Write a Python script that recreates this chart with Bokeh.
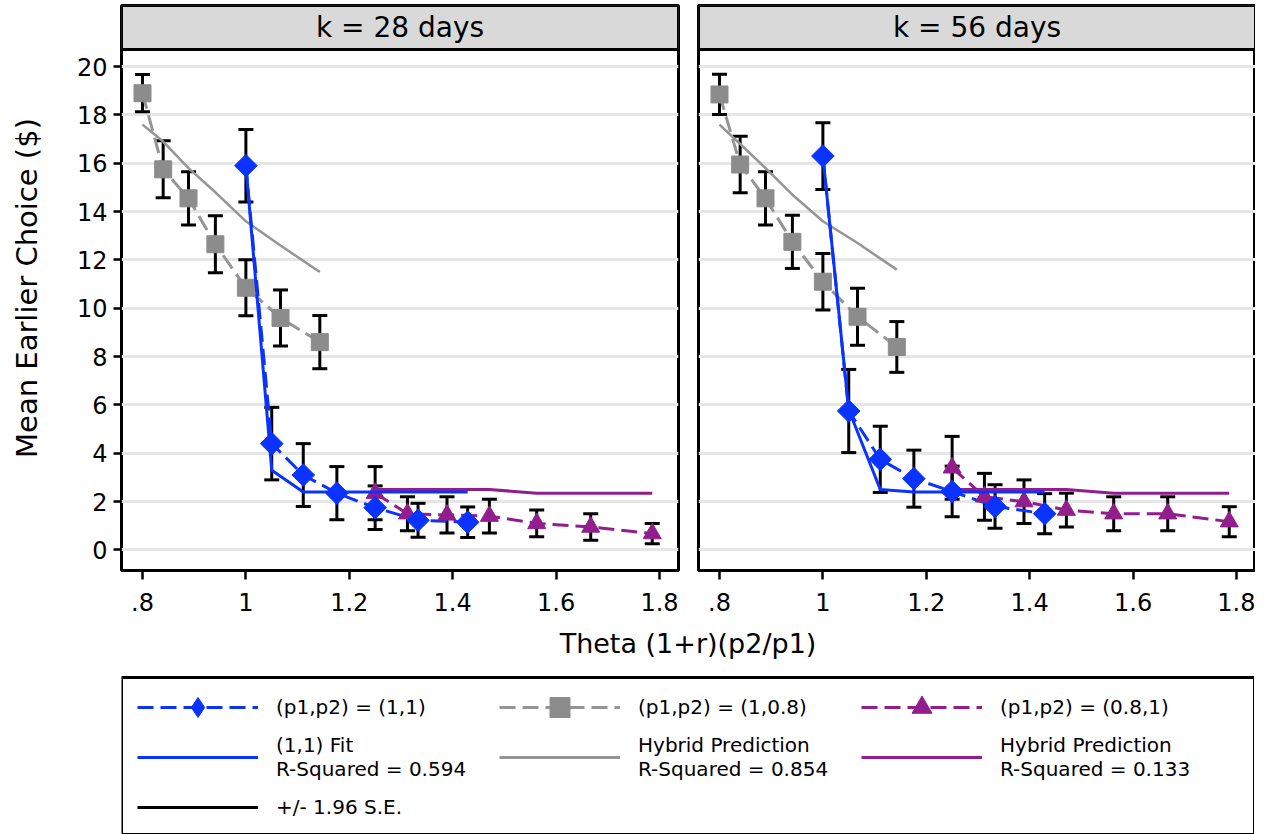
import math
from bokeh.plotting import figure
from bokeh.models import (FixedTicker, BoxAnnotation, Label, Range1d,
                          CustomJSTickFormatter, Legend, LegendItem)
from bokeh.layouts import row, column
from bokeh.embed import file_html
from bokeh.resources import INLINE

FONT = "DejaVu Sans"
BLUE = "#0A33FF"
GRAY = "#8C8C8C"
GRAY_LINE = "#959595"
PURPLE = "#911E8C"
GRID = "#E6E6E6"

# ---------------- data ----------------
panel_titles = ["k = 28 days", "k = 56 days"]
x_title = "Theta (1+r)(p2/p1)"
y_title = "Mean Earlier Choice ($)"
ytick_vals = [0, 2, 4, 6, 8, 10, 12, 14, 16, 18, 20]
xtick_vals = [0.8, 1.0, 1.2, 1.4, 1.6, 1.8]

theta_11 = [1.0, 1.05, 1.111, 1.176, 1.25, 1.333, 1.429]
theta_1_08 = [0.8, 0.84, 0.889, 0.941, 1.0, 1.067, 1.143]
theta_08_1 = [1.25, 1.3125, 1.389, 1.471, 1.5625, 1.667, 1.786]

k28_mean_11 = [15.9, 4.4, 3.1, 2.35, 1.75, 1.23, 1.15]
k28_se_11 = [1.5, 1.5, 1.3, 1.1, 0.9, 0.7, 0.63]
k28_mean_1_08 = [18.9, 15.75, 14.55, 12.65, 10.85, 9.6, 8.6]
k28_se_1_08 = [0.77, 1.18, 1.1, 1.18, 1.16, 1.16, 1.1]
k28_mean_08_1 = [2.35, 1.5, 1.45, 1.4, 1.1, 0.95, 0.68]
k28_se_08_1 = [1.1, 0.7, 0.75, 0.7, 0.55, 0.55, 0.42]
k28_fit_11 = [15.9, 3.3, 2.4, 2.4, 2.4, 2.4, 2.4]
k28_hybrid_1_08 = [17.6, 16.9, 15.8, 14.8, 13.6, 12.6, 11.5]
k28_hybrid_08_1 = [2.5, 2.5, 2.5, 2.5, 2.35, 2.35, 2.35]

k56_mean_11 = [16.3, 5.75, 3.75, 2.95, 2.42, 1.8, 1.5]
k56_se_11 = [1.38, 1.72, 1.37, 1.18, 1.05, 0.9, 0.83]
k56_mean_1_08 = [18.85, 15.95, 14.55, 12.75, 11.1, 9.65, 8.4]
k56_se_1_08 = [0.83, 1.17, 1.1, 1.1, 1.17, 1.18, 1.05]
k56_mean_08_1 = [3.4, 2.2, 2.0, 1.65, 1.5, 1.5, 1.17]
k56_se_08_1 = [1.3, 0.97, 0.9, 0.7, 0.7, 0.7, 0.62]
k56_fit_11 = [16.3, 5.8, 2.5, 2.4, 2.4, 2.4, 2.4]
k56_hybrid_1_08 = [17.6, 16.8, 15.8, 14.7, 13.6, 12.7, 11.6]
k56_hybrid_08_1 = [2.5, 2.5, 2.5, 2.5, 2.35, 2.35, 2.35]

legend_labels = ["(p1,p2) = (1,1)", "(p1,p2) = (1,0.8)", "(p1,p2) = (0.8,1)",
                 "(1,1) Fit\nR-Squared = 0.594", "Hybrid Prediction\nR-Squared = 0.854",
                 "Hybrid Prediction\nR-Squared = 0.133", "+/- 1.96 S.E."]

# ---------------- layout constants ----------------
X_START, X_END = 0.7594, 1.8368
Y_START, Y_END = -0.85, 22.53
STRIP_BOTTOM = 20.71
DASH = "16 7"
LW = 3
PANEL_BOTTOM = 52
LEG_FRAME_H = 834 - (5 + 565 + PANEL_BOTTOM)   # legend figure fills the rest
XTITLE_DOWN = 21     # px from legend-figure top to x-title centre
BOX_DOWN = 55        # px from legend-figure top to legend box top
LEG_GLYPH_H = 50
LEG_PAD = 16

tick_fmt = CustomJSTickFormatter(code="""
let s = tick.toFixed(1);
if (s.startsWith("0")) s = s.slice(1);
if (s.endsWith(".0")) s = s.slice(0, -2);
return s;
""")


def errorbars(p, xs, means, ses):
    lo = [m - s for m, s in zip(means, ses)]
    hi = [m + s for m, s in zip(means, ses)]
    p.segment(x0=xs, y0=lo, x1=xs, y1=hi, line_color="black", line_width=LW)
    p.scatter(xs, lo, marker="dash", size=15, line_color="black", line_width=LW)
    p.scatter(xs, hi, marker="dash", size=15, line_color="black", line_width=LW)


def make_panel(title, m11, s11, m108, s108, m081, s081, fit11, hyb108, hyb081, left):
    p = figure(frame_width=557, frame_height=565,
               x_range=Range1d(X_START, X_END), y_range=Range1d(Y_START, Y_END),
               output_backend="svg", toolbar_location=None,
               min_border_left=121 if left else 10, min_border_right=10 if left else 0,
               min_border_top=5, min_border_bottom=PANEL_BOTTOM,
               y_axis_location="left" if left else None)
    p.outline_line_color = "black"
    p.outline_line_width = 3
    p.outline_line_alpha = 1
    p.background_fill_color = "white"
    p.border_fill_color = "white"
    p.xgrid.visible = False
    p.ygrid.ticker = FixedTicker(ticks=ytick_vals)
    p.ygrid.grid_line_color = GRID
    p.ygrid.grid_line_width = 3

    if left:
        ax = p.yaxis[0]
        ax.ticker = FixedTicker(ticks=ytick_vals)
        ax.axis_line_color = None
        ax.major_tick_out = 8
        ax.major_tick_in = 0
        ax.minor_tick_out = 0
        ax.minor_tick_in = 0
        ax.major_tick_line_width = 2.5
        ax.major_tick_line_color = "black"
        ax.major_label_text_font = FONT
        ax.major_label_text_font_size = "24px"
        ax.major_label_text_color = "black"
        ax.major_label_standoff = 6
        ax.axis_label = y_title
        ax.axis_label_text_font = FONT
        ax.axis_label_text_font_size = "29px"
        ax.axis_label_text_font_style = "normal"
        ax.axis_label_text_color = "black"
        ax.axis_label_standoff = 30

    xa = p.xaxis[0]
    xa.ticker = FixedTicker(ticks=xtick_vals)
    xa.formatter = tick_fmt
    xa.axis_line_color = None
    xa.major_tick_out = 9
    xa.major_tick_in = 0
    xa.minor_tick_out = 0
    xa.minor_tick_in = 0
    xa.major_tick_line_width = 2.5
    xa.major_tick_line_color = "black"
    xa.major_label_text_font = FONT
    xa.major_label_text_font_size = "24px"
    xa.major_label_text_color = "black"
    xa.major_label_standoff = 13

    # error bars
    errorbars(p, theta_1_08, m108, s108)
    errorbars(p, theta_11, m11, s11)
    errorbars(p, theta_08_1, m081, s081)

    # prediction lines
    p.line(theta_1_08, hyb108, line_color=GRAY_LINE, line_width=2.5)
    p.line(theta_08_1, hyb081, line_color=PURPLE, line_width=LW)

    # observed series
    p.line(theta_1_08, m108, line_color=GRAY_LINE, line_width=LW, line_dash=DASH)
    p.line(theta_08_1, m081, line_color=PURPLE, line_width=LW, line_dash=DASH)
    p.line(theta_11, m11, line_color=BLUE, line_width=LW, line_dash=DASH)
    p.scatter(theta_1_08, m108, marker="square", size=17, fill_color=GRAY, line_color=GRAY)
    p.scatter(theta_08_1, m081, marker="triangle", size=18, fill_color=PURPLE, line_color=PURPLE)
    p.scatter(theta_11, m11, marker="square", angle=math.pi / 4, size=16,
              fill_color=BLUE, line_color=BLUE)
    p.line(theta_11, fit11, line_color=BLUE, line_width=LW)

    # strip header
    p.add_layout(BoxAnnotation(bottom=STRIP_BOTTOM, fill_color="#D9D9D9", fill_alpha=1,
                               line_color="black", line_alpha=1, line_width=3))
    p.add_layout(Label(x=(X_START + X_END) / 2, y=(STRIP_BOTTOM + Y_END) / 2, text=title,
                       text_align="center", text_baseline="middle",
                       text_font=FONT, text_font_size="28px", text_color="black"))
    return p


p1 = make_panel(panel_titles[0], k28_mean_11, k28_se_11, k28_mean_1_08, k28_se_1_08,
                k28_mean_08_1, k28_se_08_1, k28_fit_11, k28_hybrid_1_08, k28_hybrid_08_1, True)
p2 = make_panel(panel_titles[1], k56_mean_11, k56_se_11, k56_mean_1_08, k56_se_1_08,
                k56_mean_08_1, k56_se_08_1, k56_fit_11, k56_hybrid_1_08, k56_hybrid_08_1, False)

# ---------------- legend figure ----------------
leg = figure(frame_width=1133, frame_height=LEG_FRAME_H,
             x_range=Range1d(0, 1), y_range=Range1d(0, 1),
             min_border_left=121, min_border_right=0, min_border_top=0,
             min_border_bottom=0, x_axis_location=None, y_axis_location=None,
             output_backend="svg", toolbar_location=None)
leg.xgrid.visible = False
leg.ygrid.visible = False
leg.outline_line_color = None
leg.background_fill_color = "white"
leg.border_fill_color = "white"

# shared x-axis title
leg.add_layout(Label(x=0.5, y=1 - XTITLE_DOWN / LEG_FRAME_H, text=x_title,
                     text_align="center", text_baseline="middle",
                     text_font=FONT, text_font_size="27px", text_color="black"))
# legend box
leg.add_layout(BoxAnnotation(top=1 - BOX_DOWN / LEG_FRAME_H, fill_alpha=0,
                             line_color="black", line_alpha=1, line_width=3))

e = [float("nan")]
r_l11 = leg.line(e, e, line_color=BLUE, line_width=LW, line_dash=DASH)
r_m11 = leg.scatter(e, e, marker="diamond", fill_color=BLUE, line_color=BLUE)
r_l108 = leg.line(e, e, line_color=GRAY_LINE, line_width=LW, line_dash=DASH)
r_m108 = leg.scatter(e, e, marker="square", fill_color=GRAY, line_color=GRAY)
r_l081 = leg.line(e, e, line_color=PURPLE, line_width=LW, line_dash=DASH)
r_m081 = leg.scatter(e, e, marker="triangle", fill_color=PURPLE, line_color=PURPLE)
r_fit = leg.line(e, e, line_color=BLUE, line_width=LW)
r_h108 = leg.line(e, e, line_color=GRAY_LINE, line_width=LW)
r_h081 = leg.line(e, e, line_color=PURPLE, line_width=LW)
r_err = leg.line(e, e, line_color="black", line_width=LW)

items = [
    LegendItem(label=legend_labels[0], renderers=[r_l11, r_m11]),
    LegendItem(label=legend_labels[1], renderers=[r_l108, r_m108]),
    LegendItem(label=legend_labels[2], renderers=[r_l081, r_m081]),
    LegendItem(label=legend_labels[3], renderers=[r_fit]),
    LegendItem(label=legend_labels[4], renderers=[r_h108]),
    LegendItem(label=legend_labels[5], renderers=[r_h081]),
    LegendItem(label=legend_labels[6], renderers=[r_err]),
]
# legend top sits 44 px below the legend-figure top; position is given as its bottom-left
legend_height = 2 * LEG_PAD + 3 * LEG_GLYPH_H
legend_bottom = LEG_FRAME_H - 44 - legend_height
legend = Legend(items=items, location=(0, legend_bottom), orientation="horizontal", ncols=3,
                glyph_width=121, glyph_height=LEG_GLYPH_H, label_standoff=18, label_width=223,
                spacing=0, padding=LEG_PAD, margin=0, border_line_alpha=0,
                background_fill_alpha=0, label_text_font=FONT, label_text_font_size="20px",
                label_text_color="black", label_text_line_height=1.05)
leg.add_layout(legend)

layout = column(row(p1, p2), leg)
open("out.html", "w").write(file_html(layout, INLINE))
